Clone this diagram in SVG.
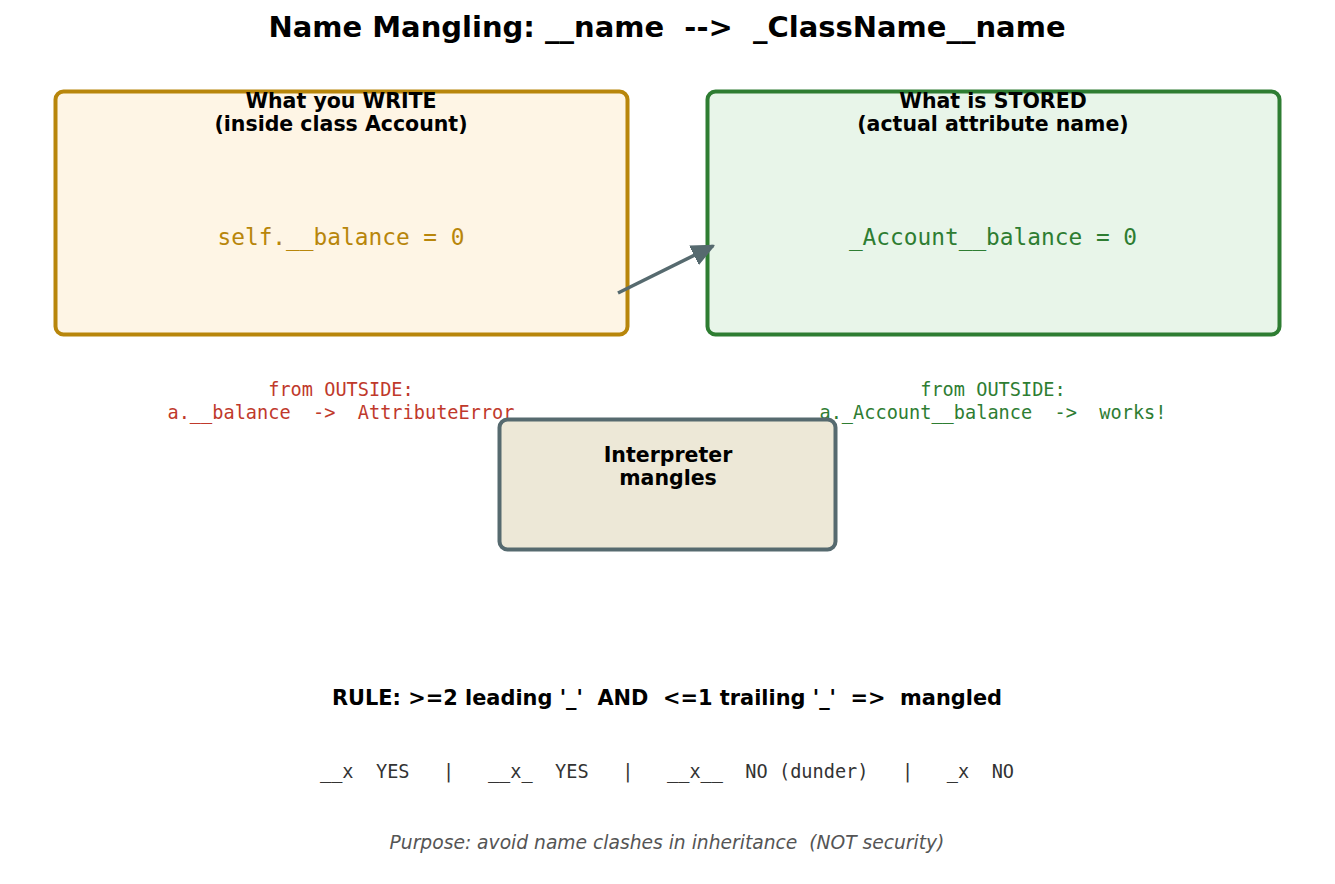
<svg xmlns="http://www.w3.org/2000/svg" width="1335" height="884" viewBox="0 0 1335 884">
<defs>
<marker id="ah" markerUnits="userSpaceOnUse" markerWidth="24" markerHeight="22" refX="21" refY="10" orient="auto" viewBox="0 0 24 20">
<path d="M0,0 L22,10 L0,20 Z" fill="#566a6f" stroke="#566a6f" stroke-width="1.5" stroke-linejoin="round"/>
</marker>
<style>
.bt{font-family:"DejaVu Sans",sans-serif;font-weight:bold;font-size:20.5px;fill:#000;text-anchor:middle}
.mono{font-family:"DejaVu Sans Mono",monospace;text-anchor:middle}
.code{font-size:22.8px}
.small{font-size:18.6px}
</style>
</defs>
<rect width="1335" height="884" fill="#fff"/>
<text x="667" y="37" class="bt" style="font-size:29px" xml:space="preserve">Name Mangling: __name  --&gt;  _ClassName__name</text>
<g id="write">
<rect x="55.5" y="91.5" width="572" height="243" rx="8" fill="#fef5e5" stroke="#b8860b" stroke-width="4"/>
<text x="341" y="108" class="bt">What you WRITE</text>
<text x="341" y="131" class="bt">(inside class Account)</text>
<text x="341" y="245" class="mono code" fill="#b8860b" xml:space="preserve">self.__balance = 0</text>
</g>
<g id="stored">
<rect x="707.5" y="91.5" width="572" height="243" rx="8" fill="#e8f5e9" stroke="#2e7d32" stroke-width="4"/>
<text x="993" y="108" class="bt">What is STORED</text>
<text x="993" y="131" class="bt">(actual attribute name)</text>
<text x="993" y="245" class="mono code" fill="#2e7d32" xml:space="preserve">_Account__balance = 0</text>
</g>
<g id="outside-left">
<text x="341" y="396" class="mono small" fill="#c0392b">from OUTSIDE:</text>
<text x="341" y="419" class="mono small" fill="#c0392b" xml:space="preserve">a.__balance  -&gt;  AttributeError</text>
</g>
<g id="outside-right">
<text x="993" y="396" class="mono small" fill="#2e7d32">from OUTSIDE:</text>
<text x="993" y="419" class="mono small" fill="#2e7d32" xml:space="preserve">a._Account__balance  -&gt;  works!</text>
</g>
<g id="interpreter">
<rect x="499.5" y="419.5" width="336" height="130" rx="8" fill="#ede8d7" stroke="#566a6f" stroke-width="4"/>
<text x="668" y="462" class="bt">Interpreter</text>
<text x="668" y="485" class="bt">mangles</text>
</g>
<g id="connectors">
<line x1="618" y1="293" x2="713" y2="246" stroke="#566a6f" stroke-width="3.5" marker-end="url(#ah)"/>
</g>
<g id="notes">
<text x="667" y="705" class="bt" style="font-size:20.9px" xml:space="preserve">RULE: &gt;=2 leading '_'  AND  &lt;=1 trailing '_'  =&gt;  mangled</text>
<text x="667" y="778" class="mono small" fill="#333" xml:space="preserve">__x  YES   |   __x_  YES   |   __x__  NO (dunder)   |   _x  NO</text>
<text x="667" y="849" style="font-family:'DejaVu Sans',sans-serif;font-style:italic;font-size:18.7px;text-anchor:middle" fill="#555" xml:space="preserve">Purpose: avoid name clashes in inheritance  (NOT security)</text>
</g>
</svg>
